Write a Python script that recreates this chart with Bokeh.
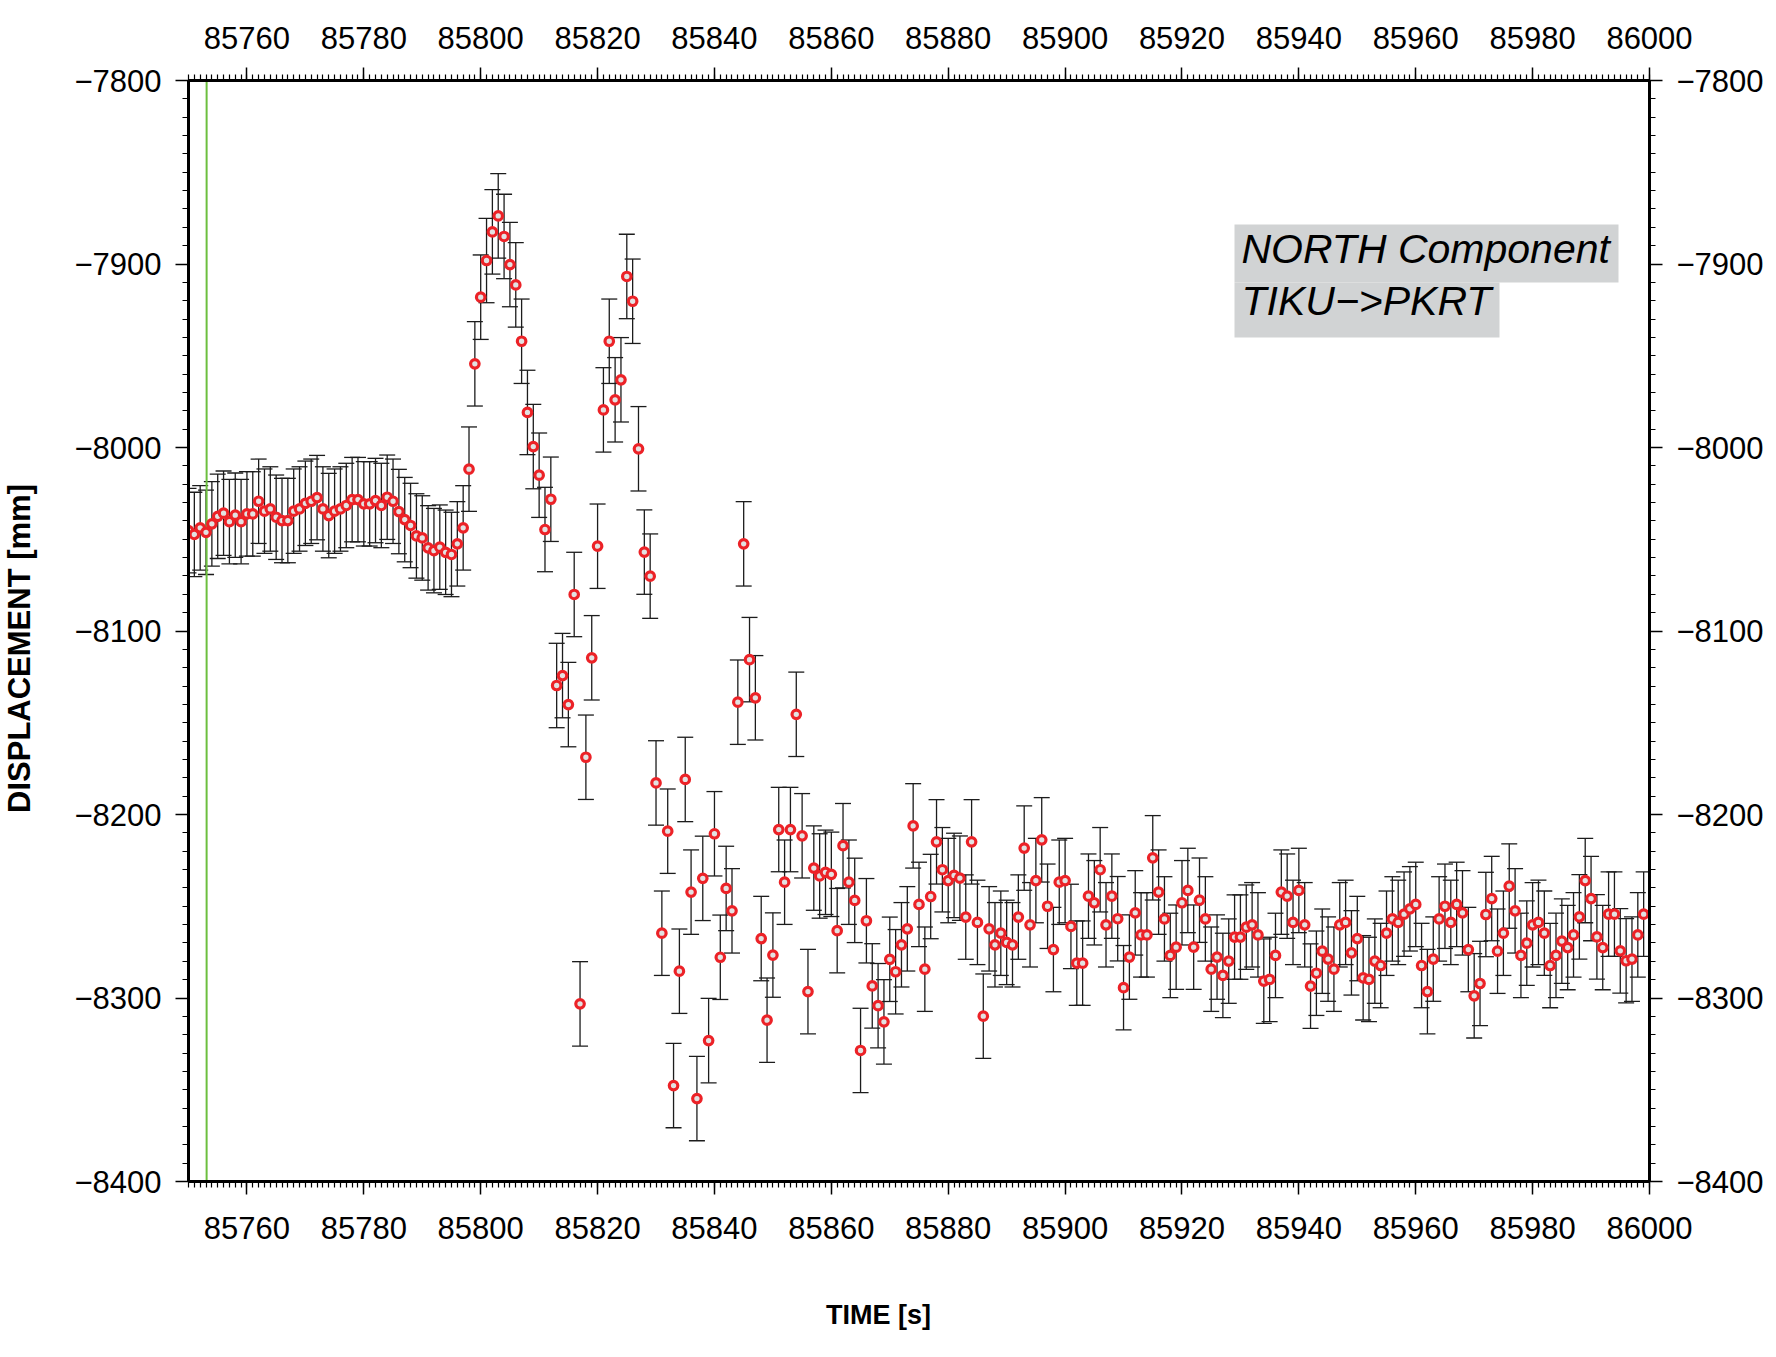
import math

from bokeh.embed import file_html
from bokeh.models import (BoxAnnotation, ColumnDataSource, FixedTicker, Label,
                          LinearAxis, Range1d, Span, TeeHead, Whisker)
from bokeh.plotting import figure
from bokeh.resources import INLINE

# ---------------------------------------------------------------- data
T_START, T_END = 85750, 86000
D_TOP, D_BOTTOM = -7800, -8400

time_s = list(range(T_START, T_END))          # one epoch per second

displacement_mm = [
    -8045.3, -8047.4, -8043.8, -8046.2, -8041.6, -8037.5, -8035.8, -8040.4, -8036.9, -8040.4,
    -8036.2, -8036.2, -8029.3, -8034.7, -8033.5, -8038.0, -8039.8, -8039.8, -8034.7, -8033.5,
    -8030.4, -8029.3, -8027.3, -8033.5, -8037.1, -8034.7, -8033.5, -8031.6, -8028.4, -8028.4,
    -8030.7, -8030.7, -8028.9, -8031.6, -8027.1, -8029.3, -8034.9, -8039.3, -8042.5, -8048.2,
    -8049.3, -8054.7, -8056.2, -8054.3, -8057.1, -8058.3, -8052.5, -8043.8, -8011.8, -7954.4,
    -7918.1, -7898.1, -7882.5, -7873.8, -7885.0, -7900.3, -7911.4, -7942.1, -7980.9, -7999.5,
    -8015.1, -8044.7, -8028.2, -8129.7, -8124.3, -8140.1, -8080.1, -8303.2, -8168.8, -8114.6,
    -8053.8, -7979.5, -7942.1, -7974.0, -7963.1, -7906.8, -7920.3, -8000.7, -8057.0, -8070.1,
    -8182.8, -8264.7, -8209.1, -8347.7, -8285.4, -8180.9, -8242.3, -8354.8, -8234.8, -8323.2,
    -8210.5, -8277.8, -8240.3, -8252.5, -8138.8, -8052.5, -8115.6, -8136.4, -8267.6, -8312.1,
    -8276.6, -8208.2, -8236.9, -8208.2, -8145.4, -8211.6, -8296.5, -8229.2, -8233.5, -8231.5,
    -8232.6, -8263.3, -8217.0, -8236.9, -8246.8, -8328.6, -8257.9, -8293.4, -8304.2, -8313.0,
    -8278.9, -8285.7, -8271.0, -8262.3, -8206.2, -8249.0, -8284.3, -8244.7, -8214.9, -8230.1,
    -8236.0, -8233.2, -8234.7, -8255.9, -8214.9, -8258.8, -8309.9, -8262.3, -8271.0, -8264.7,
    -8269.7, -8271.0, -8255.9, -8218.3, -8260.1, -8236.0, -8213.8, -8250.0, -8273.6, -8236.9,
    -8236.0, -8261.0, -8281.0, -8281.0, -8244.5, -8248.1, -8230.1, -8260.1, -8244.5, -8256.8,
    -8294.4, -8277.7, -8253.6, -8265.6, -8265.6, -8223.6, -8242.3, -8256.9, -8276.8, -8272.3,
    -8248.1, -8241.4, -8272.3, -8246.7, -8256.9, -8284.3, -8277.7, -8287.7, -8279.9, -8266.8,
    -8266.8, -8261.4, -8260.1, -8265.6, -8290.8, -8289.9, -8276.8, -8242.3, -8244.5, -8258.8,
    -8241.4, -8260.1, -8293.5, -8286.5, -8274.5, -8278.8, -8284.3, -8260.1, -8258.8, -8275.4,
    -8267.6, -8289.0, -8289.9, -8279.9, -8282.3, -8264.7, -8256.9, -8258.8, -8254.3, -8251.4,
    -8249.0, -8282.3, -8296.5, -8278.8, -8256.9, -8250.0, -8258.8, -8249.0, -8253.6, -8273.6,
    -8298.8, -8292.1, -8254.5, -8245.8, -8274.5, -8264.7, -8239.0, -8252.5, -8276.8, -8270.1,
    -8260.1, -8258.8, -8264.7, -8282.3, -8276.8, -8269.0, -8272.5, -8265.6, -8255.8, -8236.0,
    -8245.8, -8266.7, -8272.5, -8254.3, -8254.3, -8274.3, -8279.7, -8278.8, -8265.6, -8254.3,
]

sigma_mm = 23.0                 # formal error of every epoch
event_time_s = 85753.1          # marked epoch (green line)

x_major_ticks = list(range(85760, T_END + 1, 20))
x_minor_ticks = list(range(T_START, T_END + 1, 1))
y_major_ticks = list(range(D_BOTTOM, D_TOP + 1, 100))
y_minor_ticks = list(range(D_BOTTOM, D_TOP + 1, 10))

title_lines = ["NORTH Component", "TIKU\u2212>PKRT"]
x_title = "TIME [s]"
y_title = "DISPLACEMENT [mm]"

# ---------------------------------------------------------------- layout
FRAME_LEFT, FRAME_TOP = 188, 80
FRAME_W, FRAME_H = 1461, 1101
FONT = "Liberation Sans"


def xd(px):
    """canvas x pixel -> time"""
    return T_START + (px - FRAME_LEFT) * (T_END - T_START) / FRAME_W


def yd(py):
    """canvas y pixel -> displacement"""
    return D_TOP - (py - FRAME_TOP) * (D_TOP - D_BOTTOM) / FRAME_H


p = figure(
    frame_width=FRAME_W, frame_height=FRAME_H,
    x_range=Range1d(T_START, T_END), y_range=Range1d(D_BOTTOM, D_TOP),
    min_border_left=FRAME_LEFT, min_border_top=FRAME_TOP,
    min_border_right=127, min_border_bottom=176,
    output_backend="svg", toolbar_location=None,
)
p.outline_line_color = None
p.grid.visible = False
p.background_fill_color = "white"
p.border_fill_color = "white"

p.add_layout(LinearAxis(), "above")
p.add_layout(LinearAxis(), "right")

y_labels = {v: "\u2212%d" % abs(v) for v in y_major_ticks}

for ax in list(p.xaxis) + list(p.yaxis):
    ax.axis_line_color = "black"
    ax.axis_line_width = 3
    ax.major_tick_line_color = "black"
    ax.major_tick_line_width = 1.5
    ax.major_tick_in = 0
    ax.major_tick_out = 13
    ax.minor_tick_line_color = "black"
    ax.minor_tick_line_width = 1.2
    ax.minor_tick_in = 0
    ax.minor_tick_out = 6
    ax.major_label_text_font = FONT
    ax.major_label_text_font_size = "31px"
    ax.major_label_text_color = "black"

for ax in p.xaxis:
    ax.ticker = FixedTicker(ticks=x_major_ticks, minor_ticks=x_minor_ticks)
p.below[0].major_label_standoff = 22
p.above[0].major_label_standoff = 19

for ax in p.yaxis:
    ax.ticker = FixedTicker(ticks=y_major_ticks, minor_ticks=y_minor_ticks)
    ax.major_label_overrides = y_labels
    ax.major_label_standoff = 14

# ---------------------------------------------------------------- marks
src = ColumnDataSource(dict(
    t=time_s,
    d=displacement_mm,
    lo=[v - sigma_mm for v in displacement_mm],
    hi=[v + sigma_mm for v in displacement_mm],
))

bar_color = "#1c1c1c"
err = Whisker(
    source=src, base="t", lower="lo", upper="hi", dimension="height",
    line_color=bar_color, line_width=1.3, level="underlay",
    upper_head=TeeHead(size=16, line_color=bar_color, line_width=1.3),
    lower_head=TeeHead(size=16, line_color=bar_color, line_width=1.3),
)
p.add_layout(err)

p.add_layout(Span(location=event_time_s, dimension="height",
                  line_color="#6cbf3f", line_width=2, level="underlay"))

p.scatter("t", "d", source=src, marker="circle", size=8.5,
          fill_color="#e2e2e2", line_color="#ec2227", line_width=3.2)

# ---------------------------------------------------------------- annotations
box_fill = "#d1d3d4"
p.add_layout(BoxAnnotation(left=xd(1234), right=xd(1618), top=yd(224), bottom=yd(282),
                           fill_color=box_fill, fill_alpha=1, line_color=None))
p.add_layout(BoxAnnotation(left=xd(1234), right=xd(1499), top=yd(282), bottom=yd(337),
                           fill_color=box_fill, fill_alpha=1, line_color=None))
for line, base in zip(title_lines, (248, 300)):
    p.add_layout(Label(x=xd(1241), y=yd(base), text=line,
                       text_font=FONT, text_font_size="41px", text_font_style="italic",
                       text_color="black", text_align="left", text_baseline="alphabetic"))

# axis titles, kept in the side panels so they are not cut by the frame
p.add_layout(Label(x=xd(878), y=yd(1314), text=x_title,
                   text_font=FONT, text_font_size="27px", text_font_style="bold",
                   text_color="black", text_align="center", text_baseline="alphabetic"),
             "below")
p.add_layout(Label(x=xd(19), y=yd(648), text=y_title, angle=math.pi / 2,
                   text_font=FONT, text_font_size="31px", text_font_style="bold",
                   text_color="black", text_align="center", text_baseline="alphabetic"),
             "left")

open("out.html", "w").write(file_html(p, INLINE))
